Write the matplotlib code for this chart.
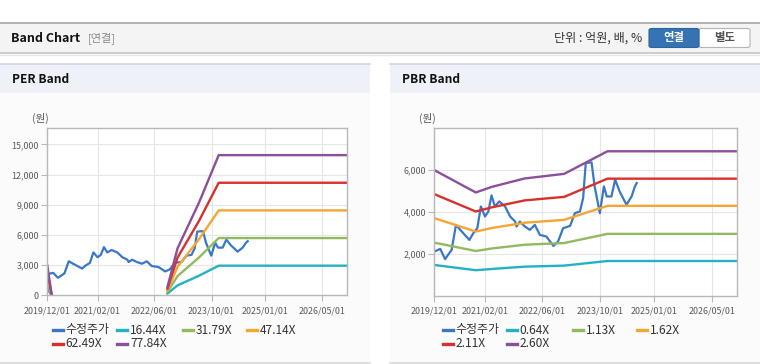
import numpy as np
import pandas as pd
import matplotlib
matplotlib.use('Agg')
import matplotlib.pyplot as plt
import matplotlib.dates as mdates
from matplotlib.patches import Rectangle, FancyBboxPatch
from matplotlib.lines import Line2D
from matplotlib.ticker import FuncFormatter

plt.rcParams['font.family'] = ['Noto Sans CJK KR', 'DejaVu Sans']

W, H = 760, 364
nan = np.nan

# adjusted share price (수정주가)
PRICE_DATES = ['2019-12-01', '2020-01-20', '2020-03-01', '2020-04-25', '2020-06-01',
               '2020-07-20', '2020-09-22', '2020-10-25', '2020-11-28', '2020-12-28',
               '2021-02-01', '2021-03-01', '2021-03-28', '2021-04-25', '2021-06-01',
               '2021-07-20', '2021-09-01', '2021-10-13', '2021-10-25', '2021-11-22',
               '2022-01-04', '2022-02-15', '2022-03-28', '2022-05-10', '2022-07-04',
               '2022-09-01', '2022-10-10', '2022-11-22', '2023-01-20', '2023-03-01',
               '2023-04-13', '2023-05-10', '2023-06-01', '2023-07-20', '2023-08-15',
               '2023-09-28', '2023-11-01', '2023-11-25', '2024-01-04', '2024-02-04',
               '2024-03-13', '2024-05-10', '2024-06-22', '2024-07-20', '2024-08-04']
PRICE = [2100, 2230, 1740, 2180, 3380, 3060, 2660, 2980, 3220, 4260,
         3780, 4020, 4790, 4260, 4500, 4260, 3780, 3540, 3300, 3540,
         3300, 3140, 3380, 2900, 2820, 2370, 2580, 3220, 3330, 3940,
         4020, 4660, 6340, 6370, 5220, 3940, 5220, 4740, 4740, 5540,
         4980, 4340, 4740, 5220, 5380]

# PER band
PER_DATES = ['2019-12-01', '2020-01-08', '2021-06-01', '2022-09-20', '2022-12-15',
             '2023-06-15', '2023-12-01', '2026-12-01']
PER_LABELS = ['16.44X', '31.79X', '47.14X', '62.49X', '77.84X']
PER_16 = [633, 0, nan, 174, 986, 1940, 2943, 2943]
PER_31 = [1224, 0, nan, 337, 1907, 3751, 5690, 5690]
PER_47 = [1815, 0, nan, 500, 2828, 5563, 8438, 8438]
PER_62 = [2406, 0, nan, 662, 3749, 7374, 11186, 11186]
PER_77 = [2997, 0, nan, 825, 4670, 9185, 13933, 13933]

# PBR band
PBR_DATES = ['2019-12-01', '2020-11-15', '2021-04-01', '2022-01-01', '2022-12-01',
             '2023-12-01', '2026-12-01']
PBR_LABELS = ['0.64X', '1.13X', '1.62X', '2.11X', '2.60X']
PBR_064 = [1460, 1210, 1270, 1380, 1430, 1650, 1650]
PBR_113 = [2530, 2130, 2250, 2430, 2510, 2950, 2950]
PBR_162 = [3700, 3060, 3230, 3480, 3620, 4290, 4290]
PBR_211 = [4850, 4020, 4220, 4550, 4720, 5590, 5590]
PBR_260 = [6000, 4930, 5200, 5600, 5820, 6900, 6900]

X_TICKS = ['2019-12-01', '2021-02-01', '2022-06-01', '2023-10-01', '2025-01-01', '2026-05-01']

PRICE_COLOR = '#3a77c6'
BAND_COLORS = ['#22b2c4', '#93b960', '#f3a633', '#d7312c', '#8c4f9c']


def fx(x):
    return x / W


def fy(y):
    return 1 - y / H


fig = plt.figure(figsize=(W / 100, H / 100), dpi=100)
fig.patch.set_facecolor('white')


def rect(x0, y0, x1, y1, fc, ec='none', lw=0):
    fig.add_artist(Rectangle((fx(x0), fy(y1)), fx(x1 - x0), (y1 - y0) / H,
                             transform=fig.transFigure, facecolor=fc,
                             edgecolor=ec, linewidth=lw, zorder=0))


def hline(x0, x1, y, color, lw=1):
    fig.add_artist(Line2D([fx(x0), fx(x1)], [fy(y), fy(y)], transform=fig.transFigure,
                          color=color, linewidth=lw, zorder=1))


# top header bar
rect(0, 22, 760, 53, '#f4f4f4')
hline(0, 760, 22.5, '#a8a8a8', 1.2)
hline(0, 760, 53, '#c4c4c4', 1.2)
hline(0, 760, 54.5, '#e6e6e6', 1.0)
fig.text(fx(11), fy(38), 'Band Chart', fontsize=9, fontweight='bold', color='#111111', va='center')
fig.text(fx(88), fy(38), '[연결]', fontsize=8, color='#8a8a8a', va='center')
fig.text(fx(642), fy(38), '단위 : 억원, 배, %', fontsize=8.7, color='#333333', va='center', ha='right')

btn1 = FancyBboxPatch((fx(649), fy(47.5)), fx(50), 19 / H, boxstyle='round,pad=0,rounding_size=0.004',
                      transform=fig.transFigure, facecolor='#3573b5', edgecolor='#2d64a0', linewidth=0.8)
btn2 = FancyBboxPatch((fx(699), fy(47.5)), fx(51), 19 / H, boxstyle='round,pad=0,rounding_size=0.004',
                      transform=fig.transFigure, facecolor='#ffffff', edgecolor='#b4b4b4', linewidth=0.8)
fig.add_artist(btn2)
fig.add_artist(btn1)
fig.text(fx(674), fy(38), '연결', fontsize=8.2, fontweight='bold', color='white', ha='center', va='center')
fig.text(fx(724.5), fy(38), '별도', fontsize=8.2, fontweight='bold', color='#555555', ha='center', va='center')

# panels
for (x0, x1, title) in [(0, 370, 'PER Band'), (390, 760, 'PBR Band')]:
    rect(x0, 64, x1, 93, '#eef2f8')
    rect(x0, 93, x1, 362, '#fbfbfb')
    hline(x0, x1, 64.3, '#d2d6dc', 1.2)
    hline(x0, x1, 362.5, '#d8d8d8', 1.2)
    fig.text(fx(x0 + 12), fy(79.5), title, fontsize=8.6, fontweight='bold', color='#111111', va='center')

to_dt = lambda s: pd.to_datetime(s)


def style_axes(ax, ylim, yticks, xl):
    ax.set_facecolor('white')
    ax.set_xlim(to_dt('2019-12-01'), to_dt('2026-12-01'))
    ax.set_ylim(*ylim)
    ax.set_yticks(yticks)
    ax.yaxis.set_major_formatter(FuncFormatter(lambda v, p: f'{int(v):,}'))
    ax.set_xticks(to_dt(X_TICKS))
    ax.xaxis.set_major_formatter(mdates.DateFormatter('%Y/%m/%d'))
    ax.grid(True, color='#e6e6e6', linewidth=0.8)
    ax.set_axisbelow(True)
    for s in ax.spines.values():
        s.set_color('#b8b8b8')
        s.set_linewidth(1.0)
    ax.tick_params(axis='both', colors='#b8b8b8', labelcolor='#5a5a5a', labelsize=6.4,
                   length=4, width=0.8, pad=2)
    ax.tick_params(axis='x', pad=4)
    fig.text(fx(xl), fy(118), '(원)', fontsize=7.6, color='#555555', va='center')


def legend(x_cols, labels):
    rows = [330, 343.5]
    for i, (lab, col) in enumerate(zip(labels, [PRICE_COLOR] + BAND_COLORS)):
        r, c = divmod(i, 4)
        x = x_cols[c]
        y = rows[r]
        fig.add_artist(Line2D([fx(x), fx(x + 10)], [fy(y), fy(y)], transform=fig.transFigure,
                              color=col, linewidth=2.4))
        fig.text(fx(x + 13), fy(y), lab, fontsize=8.6, color='#333333', va='center')


# PER axes
ax1 = fig.add_axes([fx(47.3), fy(295.3), fx(300), (295.3 - 128.3) / H])
ax1.plot(to_dt(PRICE_DATES), PRICE, color=PRICE_COLOR, linewidth=1.6)
for vals, col in zip([PER_16, PER_31, PER_47, PER_62, PER_77], BAND_COLORS):
    ax1.plot(to_dt(PER_DATES), vals, color=col, linewidth=1.7)
style_axes(ax1, (0, 16600), [0, 3000, 6000, 9000, 12000, 15000], 32)
legend([52.7, 117.3, 182.7, 247.3], ['수정주가'] + PER_LABELS)

# PBR axes
ax2 = fig.add_axes([fx(434.3), fy(295.5), fx(303), (295.5 - 128.3) / H])
ax2.plot(to_dt(PRICE_DATES), PRICE, color=PRICE_COLOR, linewidth=1.6)
for vals, col in zip([PBR_064, PBR_113, PBR_162, PBR_211, PBR_260], BAND_COLORS):
    ax2.plot(to_dt(PBR_DATES), vals, color=col, linewidth=1.7)
style_axes(ax2, (0, 8000), [2000, 4000, 6000], 419)
legend([442.7, 506.7, 572.7, 637.3], ['수정주가'] + PBR_LABELS)

fig.savefig('out.png', dpi=100, facecolor='white')
